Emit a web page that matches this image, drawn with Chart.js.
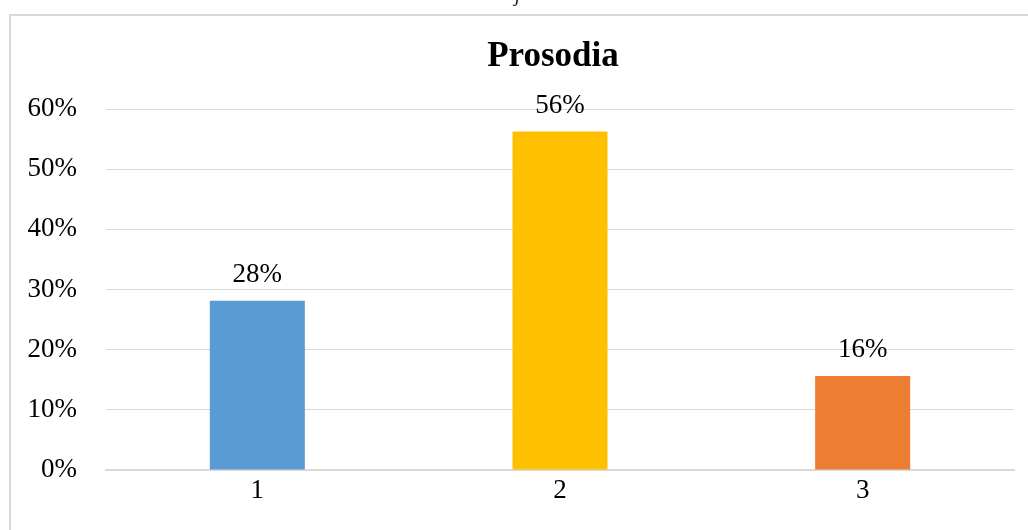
<!DOCTYPE html>
<html>
<head>
<meta charset="utf-8">
<script src="https://cdn.jsdelivr.net/npm/chart.js@4"></script>
<style>
  html, body { margin: 0; padding: 0; background: #fff; overflow: hidden; }
  #wrap { position: relative; width: 1028px; height: 530px; }
  #frag { position: absolute; left: 515px; top: -14px; font: italic 18px "Liberation Serif", serif; color: #000; }
  canvas { position: absolute; left: 0; top: 0; }
</style>
</head>
<body>
<div id="wrap">
  <span id="frag">j</span>
  <canvas id="c" width="1028" height="530"></canvas>
</div>
<script>
const categories = ['1', '2', '3'];
const values = [0.28125, 0.5625, 0.15625];
const barColors = ['#5b9bd5', '#ffc000', '#ed7d31'];
const tickValues = [0, 0.1, 0.2, 0.3, 0.4, 0.5, 0.6];
const chartTitle = 'Prosodia';

const FONT = '"Liberation Serif", "Times New Roman", serif';

const framePlugin = {
  id: 'frame',
  beforeDraw(chart) {
    const ctx = chart.ctx;
    ctx.save();
    ctx.strokeStyle = '#d9d9d9';
    ctx.lineWidth = 2;
    ctx.beginPath();
    ctx.moveTo(10, 530);
    ctx.lineTo(10, 15);
    ctx.lineTo(1028, 15);
    ctx.stroke();
    // title, centred on the (wider) chart frame
    ctx.font = 'bold 35px ' + FONT;
    ctx.fillStyle = '#000';
    ctx.textAlign = 'center';
    ctx.textBaseline = 'middle';
    ctx.fillText(chartTitle, 553, 57);
    ctx.restore();
  }
};

const labelPlugin = {
  id: 'barLabels',
  afterDatasetsDraw(chart) {
    const ctx = chart.ctx;
    const meta = chart.getDatasetMeta(0);
    ctx.save();
    ctx.font = '27px ' + FONT;
    ctx.fillStyle = '#000';
    ctx.textAlign = 'center';
    ctx.textBaseline = 'middle';
    meta.data.forEach((bar, i) => {
      const v = chart.data.datasets[0].data[i];
      ctx.fillText(Math.round(v * 100) + '%', bar.x, bar.y - 26);
    });
    ctx.restore();
  }
};

new Chart(document.getElementById('c'), {
  type: 'bar',
  data: {
    labels: categories,
    datasets: [{
      data: values,
      backgroundColor: barColors,
      borderWidth: 0,
      categoryPercentage: 1,
      barPercentage: 0.314
    }]
  },
  options: {
    responsive: false,
    animation: false,
    events: [],
    layout: { padding: { left: 0, right: 14, top: 109, bottom: 0 } },
    plugins: {
      legend: { display: false },
      tooltip: { enabled: false },
      title: { display: false }
    },
    scales: {
      x: {
        grid: { display: false, drawTicks: false },
        border: { display: true, color: '#d9d9d9', width: 2 },
        ticks: { color: '#000', font: { family: FONT, size: 27 }, padding: 5 },
        afterFit(scale) { scale.height = 60; }
      },
      y: {
        min: 0,
        max: 0.6,
        afterBuildTicks(scale) { scale.ticks = tickValues.map(v => ({ value: v })); },
        grid: { color: '#d9d9d9', lineWidth: 1, drawTicks: false },
        border: { display: false },
        ticks: {
          color: '#000',
          font: { family: FONT, size: 27 },
          padding: 29,
          callback: v => Math.round(v * 100) + '%'
        },
        afterFit(scale) { scale.width = 106; }
      }
    }
  },
  plugins: [framePlugin, labelPlugin]
});
</script>
</body>
</html>
